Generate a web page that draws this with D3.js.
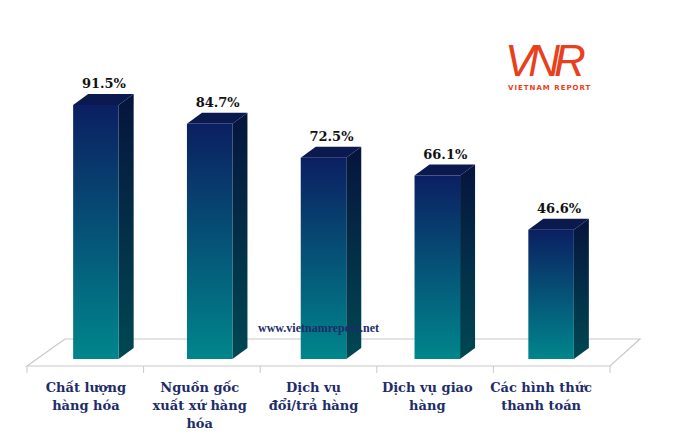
<!DOCTYPE html>
<html><head><meta charset="utf-8">
<script src="https://cdn.jsdelivr.net/npm/d3@7"></script>
<style>body{margin:0;background:#fff}</style></head>
<body><svg width="680" height="448"></svg>
<script>
var categories = [["Chất lượng","hàng hóa"],["Nguồn gốc","xuất xứ hàng","hóa"],["Dịch vụ","đổi/trả hàng"],["Dịch vụ giao","hàng"],["Các hình thức","thanh toán"]];
var values = [91.5, 84.7, 72.5, 66.1, 46.6];

var svg = d3.select("svg");
var x = d3.scaleBand().domain(d3.range(values.length)).range([39, 608]).paddingInner(0.6).paddingOuter(0.3);
var y = d3.scaleLinear().domain([0, 100]).range([359, 81.4]);
var dx = 15, dy = 11;

var defs = svg.append("defs");
function grad(id, c1, c2){
  var g = defs.append("linearGradient").attr("id", id).attr("x1",0).attr("y1",0).attr("x2",0).attr("y2",1);
  g.append("stop").attr("offset","0%").attr("stop-color",c1);
  g.append("stop").attr("offset","100%").attr("stop-color",c2);
}
grad("front", "#0b1f62", "#00868c");
grad("side", "#06143d", "#004852");

// floor
svg.append("path").attr("d","M27,366 L65,339 L640,339 L610,366 Z")
  .attr("fill","none").attr("stroke","#c8c8c8").attr("stroke-width",1.2);
d3.range(values.length + 1).forEach(function(i){
  var xx = 27 + i * (583 / 5);
  svg.append("line").attr("x1",xx).attr("x2",xx).attr("y1",366).attr("y2",373).attr("stroke","#c8c8c8");
});

var bars = svg.selectAll(".bar").data(values).enter().append("g");
bars.append("path").attr("fill","url(#side)").attr("d", function(d,i){
  var x0 = x(i) + x.bandwidth(), t = y(d), b = y(0);
  return "M"+x0+","+t+" L"+(x0+dx)+","+(t-dy)+" L"+(x0+dx)+","+(b-dy)+" L"+x0+","+b+" Z";
});
bars.append("path").attr("fill","#0a1a4e").attr("d", function(d,i){
  var x0 = x(i), x1 = x0 + x.bandwidth(), t = y(d);
  return "M"+x0+","+t+" L"+(x0+dx)+","+(t-dy)+" L"+(x1+dx)+","+(t-dy)+" L"+x1+","+t+" Z";
});
bars.append("rect").attr("fill","url(#front)")
  .attr("x", function(d,i){ return x(i); }).attr("width", x.bandwidth())
  .attr("y", function(d){ return y(d); }).attr("height", function(d){ return y(0) - y(d); });
bars.append("text").attr("text-anchor","middle")
  .attr("x", function(d,i){ return x(i) + x.bandwidth()/2 + 8; })
  .attr("y", function(d){ return y(d) - dy - 6; })
  .text(function(d){ return d.toFixed(1) + "%"; })
  .attr("font-family","DejaVu Serif").attr("font-weight","bold").attr("font-size",13).attr("fill","#111");

svg.append("text").attr("x",258).attr("y",332).text("www.vietnamreport.net")
  .attr("font-family","Liberation Serif").attr("font-weight","bold").attr("font-size",12).attr("fill","#1e2c6a");

categories.forEach(function(lines, i){
  var t = svg.append("text").attr("text-anchor","middle")
    .attr("font-family","DejaVu Serif").attr("font-weight","bold").attr("font-size",13).attr("fill","#1e2c6a");
  lines.forEach(function(l, j){
    t.append("tspan").attr("x", x(i) + x.bandwidth()/2 - 10).attr("y", 392 + j*18).text(l);
  });
});

// logo
var logo = svg.append("g").attr("fill","#e8401c");
logo.append("text").attr("x",505).attr("y",76).text("VNR").attr("font-family","Liberation Sans")
  .attr("font-style","italic").attr("font-size",44).attr("letter-spacing",-6);
logo.append("text").attr("x",508).attr("y",90).text("VIETNAM REPORT").attr("font-family","DejaVu Sans")
  .attr("font-weight","bold").attr("font-size",7).attr("letter-spacing",1);
</script></body></html>
